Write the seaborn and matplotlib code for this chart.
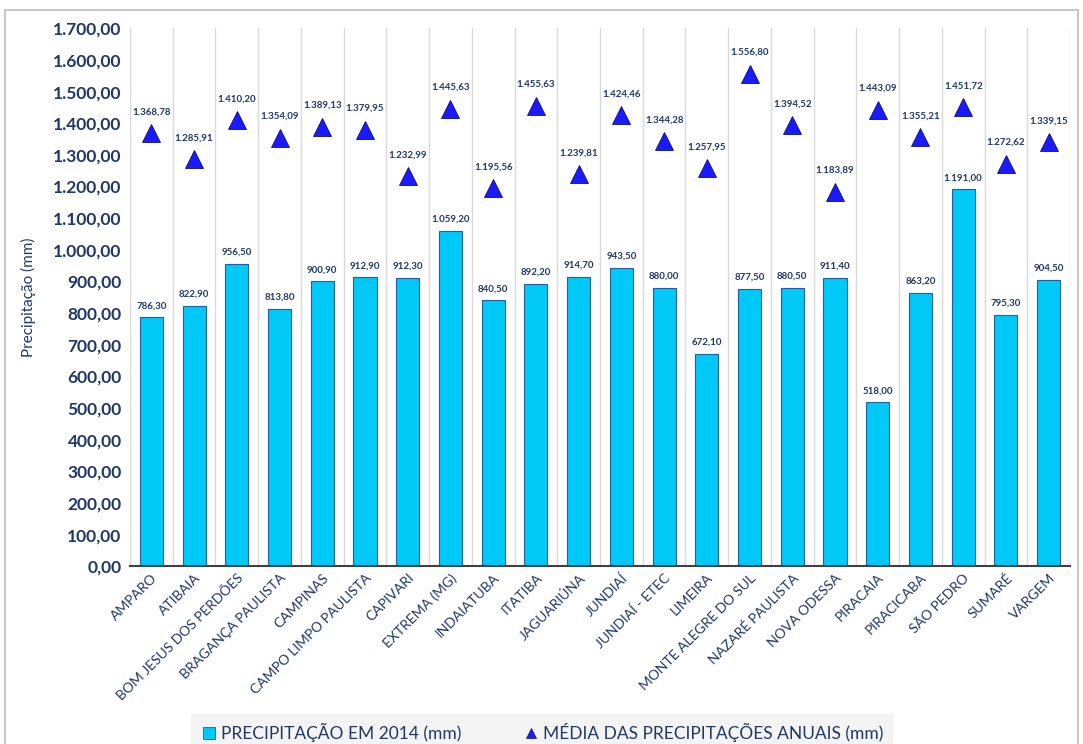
import matplotlib
matplotlib.use("Agg")
import matplotlib.pyplot as plt
from matplotlib.patches import Rectangle
from matplotlib.lines import Line2D
from matplotlib.ticker import FuncFormatter, MultipleLocator
import seaborn as sns
import pandas as pd

cidades = [
    "AMPARO", "ATIBAIA", "BOM JESUS DOS PERDÕES", "BRAGANÇA PAULISTA",
    "CAMPINAS", "CAMPO LIMPO PAULISTA", "CAPIVARI", "EXTREMA (MG)",
    "INDAIATUBA", "ITATIBA", "JAGUARIÚNA", "JUNDIAÍ", "JUNDIAÍ - ETEC",
    "LIMEIRA", "MONTE ALEGRE DO SUL", "NAZARÉ PAULISTA", "NOVA ODESSA",
    "PIRACAIA", "PIRACICABA", "SÃO PEDRO", "SUMARÉ", "VARGEM",
]
precip_2014 = [
    786.30, 822.90, 956.50, 813.80, 900.90, 912.90, 912.30, 1059.20,
    840.50, 892.20, 914.70, 943.50, 880.00, 672.10, 877.50, 880.50,
    911.40, 518.00, 863.20, 1191.00, 795.30, 904.50,
]
media_anual = [
    1368.78, 1285.91, 1410.20, 1354.09, 1389.13, 1379.95, 1232.99, 1445.63,
    1195.56, 1455.63, 1239.81, 1424.46, 1344.28, 1257.95, 1556.80, 1394.52,
    1183.89, 1443.09, 1355.21, 1451.72, 1272.62, 1339.15,
]
y_ticks_max = 1700

NAVY = "#1f3864"
BAR = "#00c8f7"
TRI = "#1a1aff"


def br(v, pos=None):
    s = f"{v:,.2f}"
    return s.replace(",", "X").replace(".", ",").replace("X", ".")


sns.set_theme(style="white")
plt.rcParams["font.family"] = ["Lato", "DejaVu Sans"]

df = pd.DataFrame({"cidade": cidades, "precip": precip_2014, "media": media_anual})

fig = plt.figure(figsize=(10.83, 7.44), dpi=100)
ax = fig.add_axes([0.120, 0.239, 0.868, 0.723])

sns.barplot(data=df, x="cidade", y="precip", color=BAR, width=0.54,
            saturation=1, edgecolor="#1f5fa0", linewidth=0.8, ax=ax, zorder=3)
sns.pointplot(data=df, x="cidade", y="media", color=TRI, markers="^",
              linestyles="none", markersize=13, ax=ax, zorder=4,
              markeredgecolor="#101070", markeredgewidth=0.6)

n = len(cidades)
ax.set_xlim(-0.5, n - 0.5)
ax.set_ylim(0, y_ticks_max)
ax.yaxis.set_major_locator(MultipleLocator(100))
ax.yaxis.set_major_formatter(FuncFormatter(br))

# vertical separators between categories
for b in range(n + 1):
    ax.axvline(b - 0.5, color="#d9d9d9", lw=1.0, zorder=1)

for s in ["top", "right", "left"]:
    ax.spines[s].set_visible(False)
ax.spines["bottom"].set_color("#404040")
ax.spines["bottom"].set_linewidth(1.5)
ax.spines["bottom"].set_zorder(5)

ax.tick_params(axis="y", length=0, pad=6, labelsize=12.5, labelcolor=NAVY)
for t in ax.get_yticklabels():
    t.set_fontweight("bold")
ax.tick_params(axis="x", length=0, pad=4, labelsize=10, labelcolor=NAVY)
ax.set_xticks(range(n))
ax.set_xticklabels(cidades, rotation=45, ha="right", rotation_mode="anchor")
ax.set_xlabel("")
ax.set_ylabel("Precipitação (mm)", color=NAVY, fontsize=11, labelpad=12)

for i, (p, m) in enumerate(zip(precip_2014, media_anual)):
    ax.annotate(br(p), (i, p), xytext=(0, 5), textcoords="offset points",
                ha="center", va="bottom", fontsize=7, fontweight="bold",
                color=NAVY, zorder=6)
    ax.annotate(br(m), (i, m), xytext=(0, 12), textcoords="offset points",
                ha="center", va="bottom", fontsize=7, fontweight="bold",
                color=NAVY, zorder=6)

# outer chart border
fig.patches.append(Rectangle((0.005, -0.01), 0.99, 0.997, transform=fig.transFigure,
                             fill=False, edgecolor="#c8c8c8", lw=1.5))

handles = [
    Line2D([], [], marker="s", linestyle="none", markersize=8,
           markerfacecolor=BAR, markeredgecolor="#1f5fa0", markeredgewidth=0.6),
    Line2D([], [], marker="^", linestyle="none", markersize=7,
           markerfacecolor=TRI, markeredgecolor="#101070", markeredgewidth=0.5),
]
leg = fig.legend(handles, ["PRECIPITAÇÃO EM 2014 (mm)", "MÉDIA DAS PRECIPITAÇÕES ANUAIS (mm)"],
                 loc="center", bbox_to_anchor=(0.5, 0.016), ncol=2, frameon=True,
                 fancybox=False, fontsize=12.5, handletextpad=0.2, columnspacing=3.5,
                 borderpad=0.5, handlelength=1.0)
leg.get_frame().set_facecolor("#f2f2f2")
leg.get_frame().set_edgecolor("#f2f2f2")
for t in leg.get_texts():
    t.set_color(NAVY)

fig.savefig("out.png", dpi=100)
